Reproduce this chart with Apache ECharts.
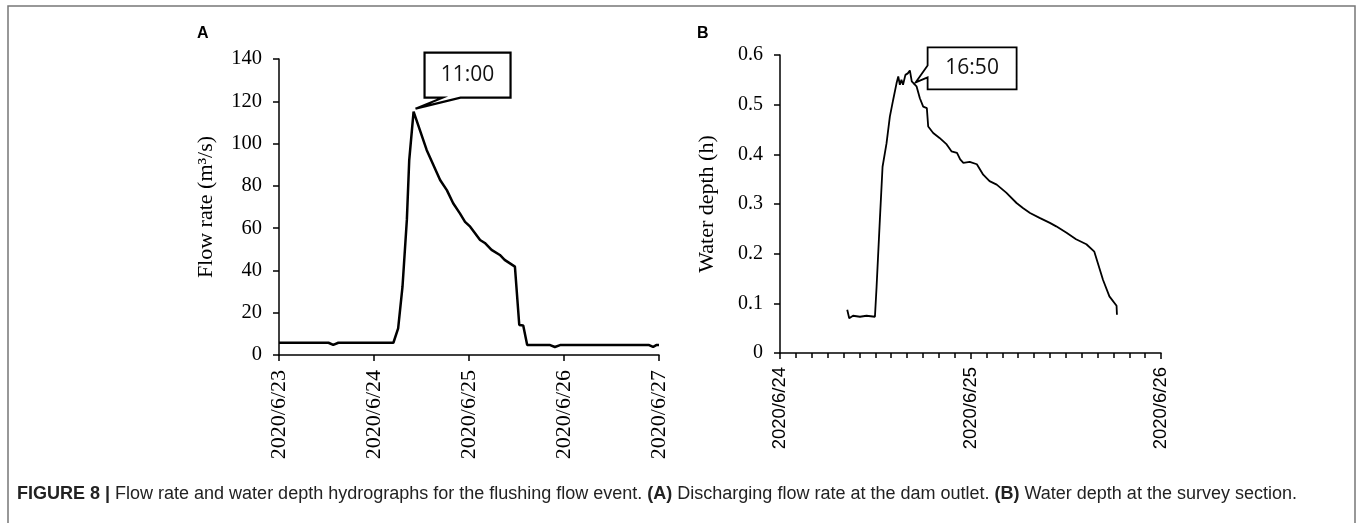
<!DOCTYPE html>
<html><head><meta charset="utf-8">
<script src="https://cdn.jsdelivr.net/npm/echarts@6/dist/echarts.min.js"></script>
<style>html,body{margin:0;padding:0;background:#fff}#c{width:1358px;height:523px}</style>
</head><body><div id="c"></div>
<script>
// x values: hours since 2020/6/23 00:00
var dayLabels = ['2020/6/23','2020/6/24','2020/6/25','2020/6/26','2020/6/27'];
var flowHours = [0,12.5,13.7,15,28.9,30.1,31.2,32.3,32.9,34,37.3,40.7,42.4,44,45.7,47,48.3,50.8,52,53.7,55.8,57,59.6,60,60.7,61.7,62.7,68.5,69.7,71,93.5,94.5,95.3,96];
var flowRate  = [5.8,5.8,4.8,5.8,5.8,12.6,32.3,63.9,92.2,115.1,97,82.8,78,71.8,67,63,60.7,54.4,53,49.7,47.3,45,41.8,41.8,14.2,14,4.7,4.7,3.8,4.7,4.7,3.8,4.7,4.7];
var depthHours = [32.47,32.72,33.2,34.07,34.9,35.96,36.17,36.58,36.92,37.42,37.84,38.26,38.68,38.9,39.1,39.3,39.5,39.8,40.1,40.36,40.6,41.2,41.62,42.04,42.5,42.67,43.3,44.1,45,45.6,46.3,46.7,47.1,47.9,48.8,49.6,50.4,51.3,52.5,53.8,54.6,55.5,56.7,58,58.8,60.1,61.3,62.6,63.6,64.7,65.5,66.4,66.45];
var depth = [0.087,0.070,0.075,0.073,0.075,0.073,0.134,0.268,0.375,0.422,0.476,0.510,0.543,0.557,0.540,0.550,0.540,0.560,0.563,0.569,0.547,0.537,0.513,0.496,0.493,0.456,0.443,0.433,0.420,0.406,0.403,0.390,0.383,0.385,0.380,0.359,0.346,0.339,0.323,0.302,0.292,0.282,0.272,0.262,0.255,0.242,0.229,0.219,0.204,0.147,0.114,0.095,0.077];
var calloutA = '11:00', calloutADay = 1;   // 2020/6/24
var calloutB = '16:50', calloutBDay = 1;   // 2020/6/24
var caption = ['FIGURE 8 |',' Flow rate and water depth hydrographs for the flushing flow event. ','(A)',' Discharging flow rate at the dam outlet. ','(B)',' Water depth at the survey section.'];

function pairs(xs, ys){ return xs.map(function(x,i){return [x, ys[i]];}); }
function hoursOf(t, day){ var p=t.split(':'); return day*24 + (+p[0]) + (+p[1])/60; }
var serif = 'Liberation Serif';
var chart = echarts.init(document.getElementById('c'));
var axisLine = {lineStyle:{color:'#000',width:1.5}};
chart.setOption({
  animation:false,
  grid:[{left:279, top:59, width:380, height:296},{left:780, top:55, width:381, height:298}],
  xAxis:[
    {gridIndex:0, type:'value', min:0, max:96, interval:24, axisLine:axisLine,
     axisTick:{length:6, lineStyle:{color:'#000',width:1.5}}, splitLine:{show:false},
     axisLabel:{rotate:90, margin:15, color:'#000', fontFamily:serif, fontSize:22, formatter:function(v){return dayLabels[v/24];}}},
    {gridIndex:1, type:'value', min:24, max:72, interval:24, axisLine:axisLine,
     axisTick:{length:6, lineStyle:{color:'#000',width:1.5}},
     minorTick:{show:true, splitNumber:12, length:5, lineStyle:{color:'#000',width:1.5}}, splitLine:{show:false},
     axisLabel:{rotate:90, margin:14, color:'#000', fontFamily:'Liberation Sans', fontSize:18.5, formatter:function(v){return dayLabels[v/24];}}}
  ],
  yAxis:[
    {gridIndex:0, type:'value', min:0, max:140, interval:20, axisLine:axisLine,
     axisTick:{show:true, length:6, lineStyle:{color:'#000',width:1.5}}, splitLine:{show:false},
     axisLabel:{margin:17, color:'#000', fontFamily:serif, fontSize:20.5},
     name:'Flow rate (m\u00b3/s)', nameLocation:'middle', nameGap:62, nameTextStyle:{color:'#000', fontFamily:serif, fontSize:22}},
    {gridIndex:1, type:'value', min:0, max:0.6, interval:0.1, axisLine:axisLine,
     axisTick:{show:true, length:6, lineStyle:{color:'#000',width:1.5}}, splitLine:{show:false},
     axisLabel:{margin:17, color:'#000', fontFamily:serif, fontSize:20},
     name:'Water depth (h)', nameLocation:'middle', nameGap:62, nameTextStyle:{color:'#000', fontFamily:serif, fontSize:22}}
  ],
  series:[
    {type:'line', xAxisIndex:0, yAxisIndex:0, data:pairs(flowHours, flowRate), showSymbol:false, lineStyle:{color:'#000', width:2.5}},
    {type:'line', xAxisIndex:1, yAxisIndex:1, data:pairs(depthHours, depth), showSymbol:false, lineStyle:{color:'#000', width:1.8}}
  ]
});

var pA = chart.convertToPixel({gridIndex:0}, [hoursOf(calloutA, calloutADay), Math.max.apply(null, flowRate)]);
var pB = chart.convertToPixel({gridIndex:1}, [hoursOf(calloutB, calloutBDay), Math.max.apply(null, depth)]);
function boxA(p){ var tx=p[0]-2, ty=p[1]-3; var l=tx+9,r=tx+95,t=ty-56,b=ty-11;
  return [[l,t],[r,t],[r,b],[tx+45,b],[tx,ty],[tx+27,b],[l,b]]; }
function boxB(p){ var tx=p[0]+2, ty=p[1]+12; var l=tx+12,r=tx+101,t=ty-35,b=ty+7;
  return [[l,t],[r,t],[r,b],[l,b],[l,ty-5],[tx,ty],[l,ty-17]]; }
var ptsA = boxA(pA), ptsB = boxB(pB);
var capRich = {b:{fontWeight:'bold', fontSize:18, fontFamily:'Liberation Sans', fill:'#222'}, n:{fontSize:18, fontFamily:'Liberation Sans', fill:'#222'}};
var capText = caption.map(function(s,i){ return (i%2===0?'{b|':'{n|') + s + '}'; }).join('');
chart.setOption({graphic:[
  {type:'rect', shape:{x:8, y:6, width:1347, height:540}, style:{fill:'none', stroke:'#777', lineWidth:1.5}},
  {type:'text', left:197, top:26, style:{text:'A', font:'bold 16px Liberation Sans', fill:'#000'}},
  {type:'text', left:697, top:26, style:{text:'B', font:'bold 16px Liberation Sans', fill:'#000'}},
  {type:'polygon', shape:{points:ptsA}, style:{fill:'#fff', stroke:'#000', lineWidth:2.2}, z:10},
  {type:'text', x:(ptsA[0][0]+ptsA[1][0])/2, y:(ptsA[0][1]+ptsA[2][1])/2, style:{text:calloutA, font:'21px Open Sans', fill:'#111', align:'center', verticalAlign:'middle'}, z:11},
  {type:'polygon', shape:{points:ptsB}, style:{fill:'#fff', stroke:'#000', lineWidth:1.8}, z:10},
  {type:'text', x:(ptsB[0][0]+ptsB[1][0])/2, y:(ptsB[0][1]+ptsB[2][1])/2, style:{text:calloutB, font:'21px Open Sans', fill:'#111', align:'center', verticalAlign:'middle'}, z:11},
  {type:'text', left:17, top:485, style:{text:capText, rich:capRich}}
]});
</script></body></html>
